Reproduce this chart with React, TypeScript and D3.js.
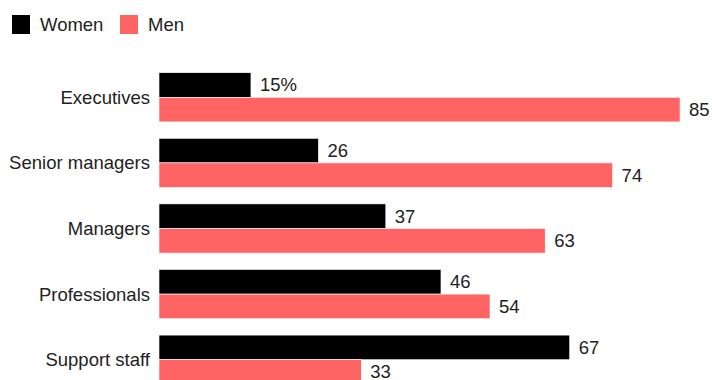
import React from "react";
import * as d3 from "d3";

const categories = ["Executives", "Senior managers", "Managers", "Professionals", "Support staff"];
const women = [15, 26, 37, 46, 67];
const men = [85, 74, 63, 54, 33];
const seriesNames = ["Women", "Men"];
const seriesColors = ["#000000", "#ff6464"];

const W = 712;
const H = 380;
const FONT = "'Liberation Sans', Arial, sans-serif";
const FS = 18.5;

export default function App() {
  const x = d3.scaleLinear().domain([0, 100]).range([159, 772]);
  const y = d3.scaleBand<string>().domain(categories).range([56.3, 400.7]).padding(0.25);
  const sub = d3.scaleBand<string>().domain(seriesNames).range([0, y.bandwidth()]);
  const series = [women, men];

  return (
    <svg width={W} height={H} style={{ position: "absolute", left: 0, top: 0, background: "#fff" }} fontFamily={FONT}>
      {seriesNames.map((s, i) => {
        const lx = i === 0 ? 12 : 120;
        return (
          <g key={s}>
            <rect x={lx} y={15} width={18} height={19} fill={seriesColors[i]} />
            <text x={lx + 28} y={24.5} dy="0.35em" fontSize={FS} fill="#222">{s}</text>
          </g>
        );
      })}
      {categories.map((c, ci) => {
        const y0 = y(c)!;
        return (
          <g key={c}>
            <text x={150} y={y0 + y.bandwidth() / 2} dy="0.35em" textAnchor="end" fontSize={FS} fill="#222">{c}</text>
            {seriesNames.map((s, si) => {
              const v = series[si][ci];
              const by = y0 + sub(s)!;
              const label = ci === 0 && si === 0 ? `${v}%` : `${v}`;
              return (
                <g key={s}>
                  <rect x={x(0)} y={by} width={x(v) - x(0)} height={sub.bandwidth()} fill={seriesColors[si]} stroke="#fff" strokeWidth={0.6} />
                  <text x={x(v) + 9} y={by + sub.bandwidth() / 2} dy="0.35em" fontSize={FS} fill="#222">{label}</text>
                </g>
              );
            })}
          </g>
        );
      })}
    </svg>
  );
}
